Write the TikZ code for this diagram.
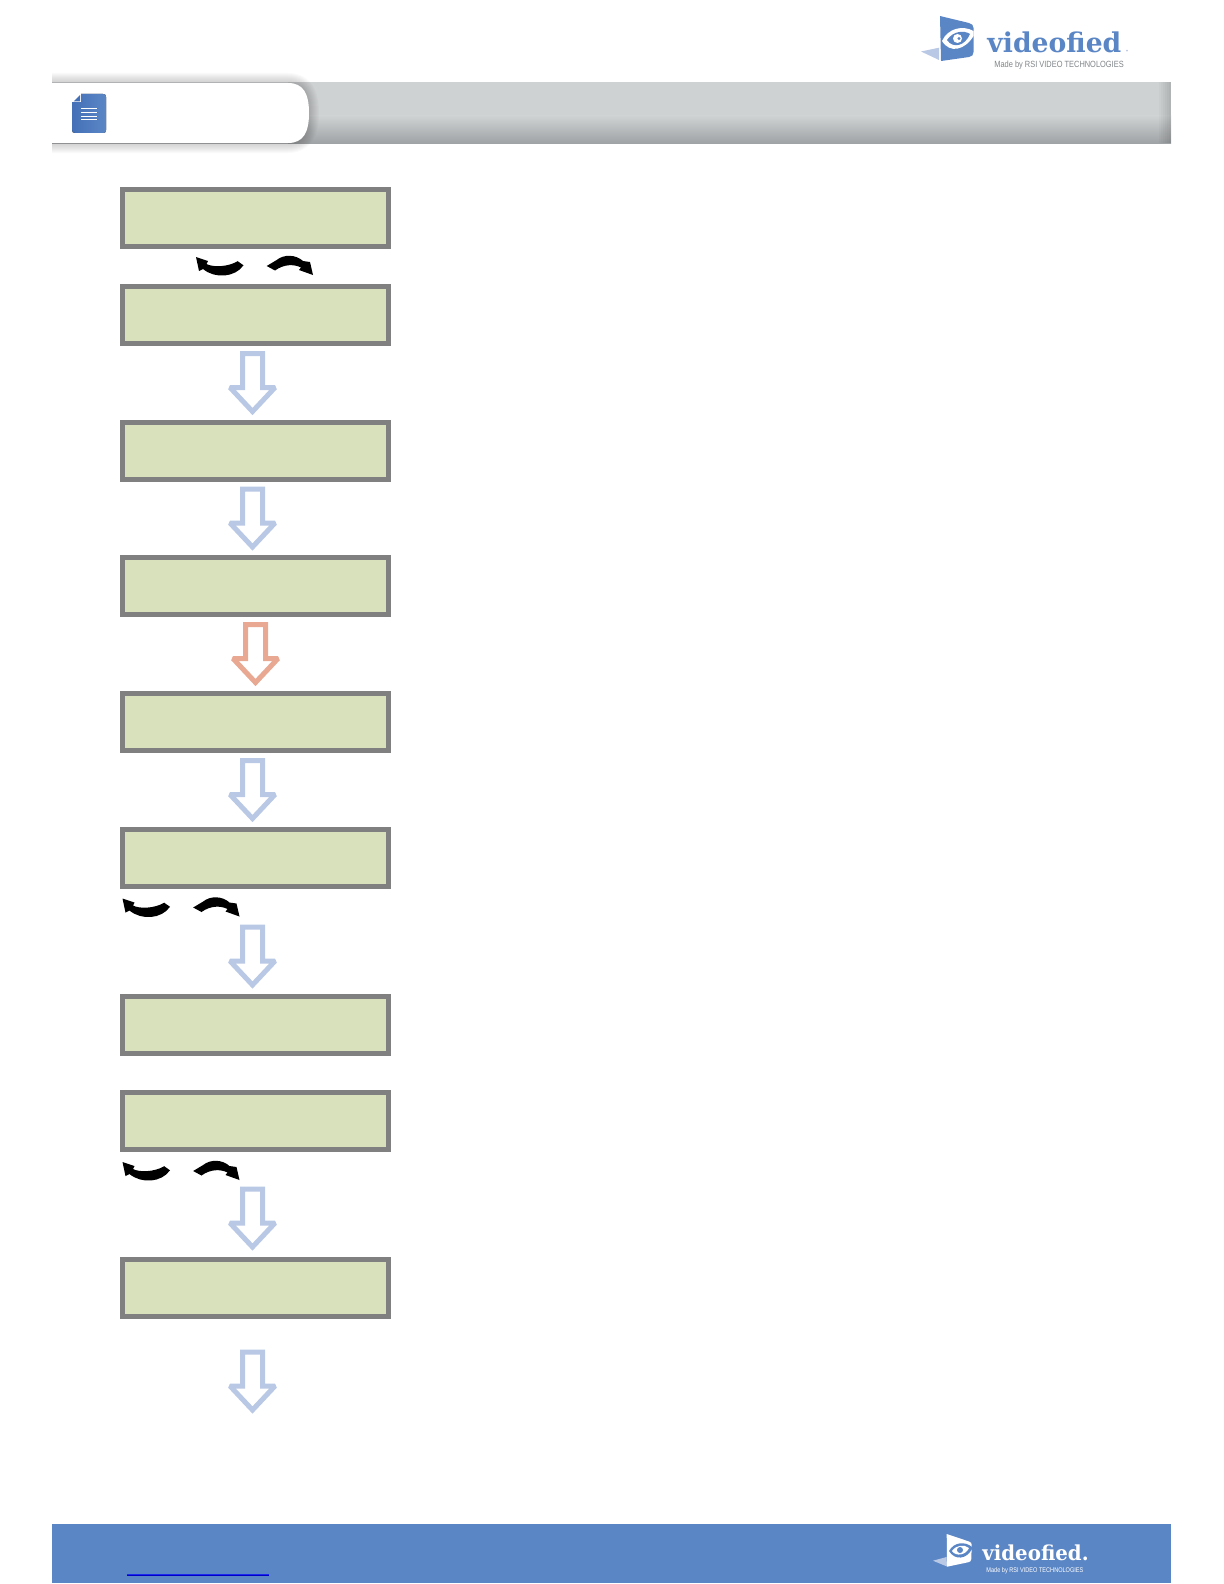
\documentclass[tikz,border=0pt]{standalone}
\usepackage{fontspec}
\setmainfont{Liberation Sans}
\newfontfamily\logofont{DejaVu Serif}
\definecolor{lcdfill}{HTML}{D9E1BC}
\definecolor{lcdedge}{HTML}{808080}
\definecolor{bluearrow}{HTML}{B9C8E4}
\definecolor{redarrow}{HTML}{E8A891}
\definecolor{brandblue}{HTML}{5B86C5}
\definecolor{icondark}{HTML}{4470B8}
\definecolor{footblue}{HTML}{5B86C5}
\definecolor{logogrey}{HTML}{808488}
\definecolor{bandtop}{HTML}{CFD2D3}
\definecolor{bandbot}{HTML}{A0A3A5}
\tikzset{
  x=0.5pt,y=-0.5pt,
  lcd/.style={draw=lcdedge,fill=lcdfill,line width=2.5pt,minimum width=133pt,minimum height=28.5pt,inner sep=0pt,anchor=north west,outer sep=0pt},
  hollow/.style={draw=#1,line width=2.5pt,fill=white,miter limit=2},
  swoop/.style={fill=black,draw=none},
  pics/downarrow/.style={code={
    \draw[hollow=#1] (-10,0) -- (10,0) -- (10,34) -- (22.5,34) -- (0,58) -- (-22.5,34) -- (-10,34) -- cycle;
  }},
  pics/swoops/.style={code={
    \fill[swoop] (0,0) -- (12,4) -- (10.5,7) .. controls (17,10.5) and (32,10) .. (41.7,4.2) -- (47.5,8.3)
      .. controls (39,20.5) and (19,22) .. (7,12) -- (3,14) -- cycle;
    \fill[swoop] (70.7,9) -- (80.7,3) .. controls (88,-3) and (100,-2.5) .. (107,4) -- (114,5) -- (117,18) -- (103,13) -- (105,10.5)
      .. controls (98,7) and (88,7) .. (79,13.5) -- cycle;
  }}
}
\begin{document}
\begin{tikzpicture}
\useasboundingbox (0,0) rectangle (1224,1584);
% header band
\fill[bandtop] (52,82) rectangle (1171,116);
\fill[top color=bandtop,bottom color=bandbot] (52,116) rectangle (1171,143);
\foreach \xx in {1159,1161,1163,1165,1167,1169}
  \fill[black,opacity=.025] (\xx,82) rectangle (1171,143);
% tab shadow, then tab
\begin{scope}
\clip (52,60) rectangle (340,170);
\foreach \w in {1,2,...,10}
  \draw[black,opacity=.018,line width=\w*1.0pt,line join=round]
    (52,83) -- (288,83) .. controls (303,83) and (309,93) .. (309,113) .. controls (309,133) and (303,143) .. (288,143) -- (52,143);
\fill[white] (52,83) -- (288,83) .. controls (303,83) and (309,93) .. (309,113) .. controls (309,133) and (303,143) .. (288,143) -- (52,143) -- cycle;
\end{scope}
% document icon
\fill[left color=icondark,right color=brandblue] (74,94) -- (103,94) .. controls (105,94) and (106,95) .. (106,97)
  -- (106,130) .. controls (106,132) and (105,133) .. (103,133) -- (75,133) .. controls (73,133) and (72,132) .. (72,130) -- (72,96) -- cycle;
\fill[white] (71,93) rectangle (81,102.5);
\fill[icondark] (80,95) -- (80,101.5) -- (73.5,101.5) -- cycle;
\foreach \yy in {108.5,112,116,119.5} \draw[white,line width=.45pt] (81,\yy) -- (97,\yy);
% displays
\node[lcd] (d1) at (122.5,189.75) {};
\node[lcd] (d2) at (122.5,286.75) {};
\node[lcd] (d3) at (122.5,422.75) {};
\node[lcd] (d4) at (122.5,557.75) {};
\node[lcd] (d5) at (122.5,693.75) {};
\node[lcd] (d6) at (122.5,829.75) {};
\node[lcd] (d7) at (122.5,996.75) {};
\node[lcd] (d8) at (122.5,1092.75) {};
\node[lcd] (d9) at (122.5,1259.75) {};
% hollow arrows
\pic at (252.5,353.5) {downarrow=bluearrow};
\pic at (252.5,489) {downarrow=bluearrow};
\pic at (255.5,624.5) {downarrow=redarrow};
\pic at (252.5,760.5) {downarrow=bluearrow};
\pic at (252.5,927) {downarrow=bluearrow};
\pic at (252.5,1189) {downarrow=bluearrow};
\pic at (252.5,1352) {downarrow=bluearrow};
% curved arrows
\pic at (196,257) {swoops};
\pic at (122.5,898.5) {swoops};
\pic at (122.5,1162) {swoops};
% top logo
\fill[bluearrow] (921,51.5) -- (939,47.7) -- (939,60) -- cycle;
\fill[brandblue] (940,16) -- (969,23) .. controls (972,24) and (973.5,25) .. (973.5,28) -- (973.5,52) .. controls (973.5,55) and (972,56.5) .. (969,57) -- (941,61) -- cycle;
\fill[white] (942,41) .. controls (948,28) and (963,25) .. (973.5,31) -- (973.5,36) .. controls (965,50) and (950,54) .. (942,41) -- cycle;
\fill[brandblue] (947,40) .. controls (953,31) and (964,30) .. (970,34) .. controls (965,46) and (953,49) .. (947,40) -- cycle;
\fill[white] (957.5,38.5) circle[radius=4.5];
\fill[brandblue] (959,38.5) circle[radius=1.6];
\node[inner sep=0pt,anchor=base west,text=brandblue] (logotop) at (987,52.5) {\logofont\bfseries\fontsize{13.6}{14}\selectfont\scalebox{.98}[1]{videofied}};
\fill[bluearrow] (1127,50.7) circle[radius=1];
\node[inner sep=0pt,anchor=base west,text=logogrey] (madetop) at (994,67.5) {\fontsize{4.5}{5}\selectfont\scalebox{.826}[1]{Made by RSI VIDEO TECHNOLOGIES}};
% footer
\fill[footblue] (52,1524) rectangle (1171,1583);
\fill[blue!70!footblue] (127,1573.5) rectangle (269,1575);
\fill[blue!78!black] (127,1574.8) rectangle (269,1576);
\fill[bluearrow] (933,1560.7) -- (946.5,1557) -- (947,1566.5) -- cycle;
\fill[white] (946.7,1534) -- (969,1541.5) .. controls (971,1542.2) and (971.7,1543) .. (971.7,1545) -- (971.3,1559) .. controls (971.3,1561) and (970,1562) .. (968,1562.3) -- (947,1566.7) -- cycle;
\fill[footblue] (949,1551) .. controls (954,1542) and (965,1541) .. (972,1547) -- (972,1549) .. controls (967,1559) and (955,1561) .. (949,1551) -- cycle;
\fill[white] (952,1551) .. controls (956,1545) and (964,1544) .. (969,1548) .. controls (966,1555) and (956,1557) .. (952,1551) -- cycle;
\fill[footblue] (960,1550) circle[radius=3];
\node[inner sep=0pt,anchor=base west,text=white] (logofoot) at (982,1560.7) {\logofont\bfseries\fontsize{10.3}{11}\selectfont\scalebox{.96}[1]{videofied.}};
\node[inner sep=0pt,anchor=base west,text=white] (madefoot) at (986,1572.3) {\fontsize{3.4}{4}\selectfont\scalebox{.82}[1]{Made by RSI VIDEO TECHNOLOGIES}};
\end{tikzpicture}
\end{document}
